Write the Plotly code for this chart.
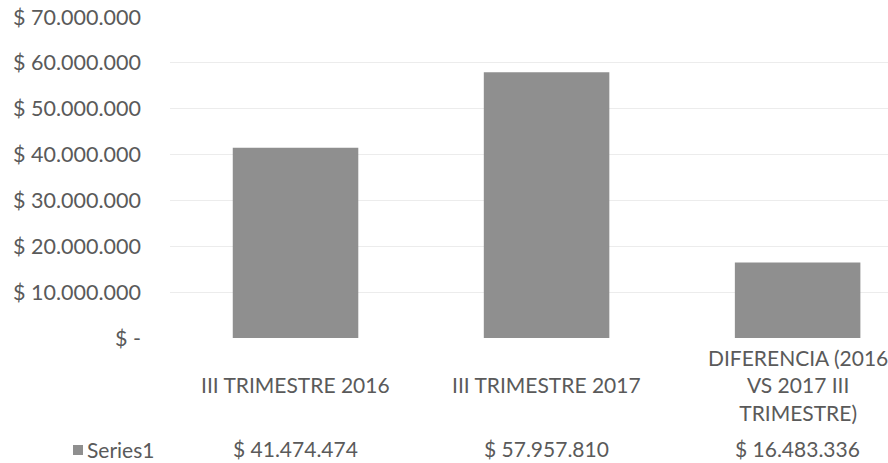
import plotly.graph_objects as go

# ---- data ----
categories = ["III TRIMESTRE 2016", "III TRIMESTRE 2017", "DIFERENCIA (2016 VS 2017 III TRIMESTRE)"]
category_labels = ["III TRIMESTRE 2016", "III TRIMESTRE 2017", "DIFERENCIA (2016<br>VS 2017 III<br>TRIMESTRE)"]
values = [41474474, 57957810, 16483336]
series_name = "Series1"
tick_vals = [0, 10000000, 20000000, 30000000, 40000000, 50000000, 60000000, 70000000]
tick_text = ["$ -", "$ 10.000.000", "$ 20.000.000", "$ 30.000.000", "$ 40.000.000",
             "$ 50.000.000", "$ 60.000.000", "$ 70.000.000"]


def money(v):
    return "$ " + f"{v:,}".replace(",", ".")


value_labels = [money(v) for v in values]

# ---- layout constants ----
W, H = 888, 463
ML, MR, MT, MB = 170, 0, 17, 125
PW, PH = W - ML - MR, H - MT - MB
FONT = "Lato, 'Open Sans', sans-serif"
TXT = "#5a5a5a"
BAR = "#8f8f8f"


def py(pix):  # pixel y -> paper y
    return (H - MB - pix) / PH


def px(pix):  # pixel x -> paper x
    return (pix - ML) / PW


fig = go.Figure()
fig.add_trace(go.Bar(
    x=list(range(len(categories))), y=values, name=series_name,
    marker=dict(color=BAR, line=dict(width=0)), width=0.5,
    hovertext=categories, showlegend=False,
))

annotations = []
for i, lab in enumerate(category_labels):
    annotations.append(dict(x=i, xref="x", y=py(385), yref="paper", text=lab,
                            showarrow=False, xanchor="center", yanchor="middle",
                            font=dict(family=FONT, size=21, color=TXT)))
for i, lab in enumerate(value_labels):
    annotations.append(dict(x=i, xref="x", y=py(448), yref="paper", text=lab,
                            showarrow=False, xanchor="center", yanchor="middle",
                            font=dict(family=FONT, size=21, color=TXT)))
annotations.append(dict(x=px(85), xref="paper", y=py(449), yref="paper",
                        text=series_name,
                        showarrow=False, xanchor="left", yanchor="middle",
                        font=dict(family=FONT, size=21, color=TXT)))

shapes = [dict(type="rect", xref="paper", yref="paper",
               x0=px(73), x1=px(83), y0=py(455), y1=py(445),
               fillcolor=BAR, line=dict(width=0))]

fig.update_layout(
    width=W, height=H,
    margin=dict(l=ML, r=MR, t=MT, b=MB, pad=0),
    paper_bgcolor="white", plot_bgcolor="white",
    font=dict(family=FONT, size=18, color=TXT),
    xaxis=dict(range=[-0.5, 2.36], showticklabels=False, showgrid=False,
               zeroline=False, showline=False, ticks=""),
    yaxis=dict(range=[0, 70000000], tickvals=tick_vals, ticktext=tick_text,
               showgrid=True, gridcolor="#ececec", gridwidth=1, zeroline=False,
               showline=False, ticks="", ticklabelstandoff=28,
               ticklabeloverflow="allow",
               tickfont=dict(family=FONT, size=21.5, color=TXT)),
    annotations=annotations,
    shapes=shapes,
    showlegend=False,
)

fig.write_html("out.html",
               config={"displayModeBar": False},
               post_script="document.body.style.margin='0';document.body.style.overflow='hidden';")
